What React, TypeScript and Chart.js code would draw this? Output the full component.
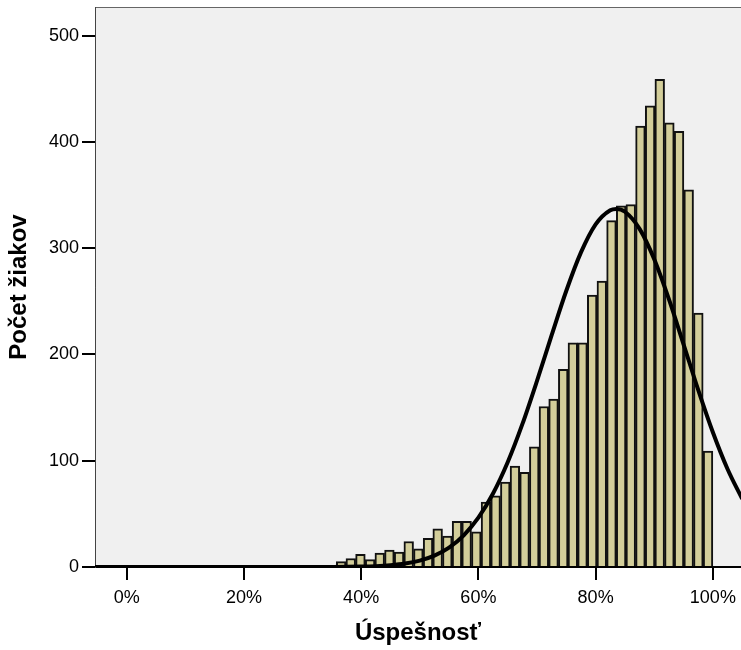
import React, { useEffect, useRef } from "react";
import { Chart, registerables } from "chart.js";

Chart.register(...registerables);

// Histogram bins (left to right), each 1.647 percentage points wide, last bin ends at 100 %
const binWidth = 1.647;
const firstBinCenter = 30.0;
const binCounts = [
  1, 0, 1, 0, 5, 8, 12, 7, 13, 16, 14, 24, 17, 27, 36, 29, 43, 43, 33, 61, 67,
  80, 95, 89, 113, 151, 158, 186, 211, 211, 256, 269, 326, 340, 341, 415, 434,
  459, 418, 410, 355, 239, 109,
];

// Normal curve
const curveX = [
  -5.4, 0, 10, 20, 25, 30, 32.5, 35, 37.5, 40, 42.5, 45, 47.5, 50, 52.5, 55,
  57.5, 60, 62.5, 65, 67.5, 70, 72.5, 75, 77.5, 80, 82.5, 83.5, 85, 87.5, 90,
  92.5, 95, 97.5, 100, 102.5, 105,
];
const curveY = [
  0, 0, 0, 0, 0, 0, 0.03, 0.07, 0.17, 0.38, 0.8, 1.65, 3.2, 6, 10.7, 18.2, 29.8,
  46.4, 69.2, 98.6, 134.4, 175.2, 218.2, 260, 296.1, 322.5, 335.8, 337, 334.3,
  318.2, 289.6, 252, 209.6, 166.7, 126.8, 92.2, 64.1,
];

const xTickValues = [0, 20, 40, 60, 80, 100];
const yTickValues = [0, 100, 200, 300, 400, 500];
const xTitle = "Úspešnosť";
const yTitle = "Počet žiakov";

const FONT = "'Liberation Sans', Arial, sans-serif";

const plotBg = {
  id: "plotBg",
  beforeDraw(chart: any) {
    const { ctx, chartArea } = chart;
    const { left, top, right, bottom } = chartArea;
    ctx.save();
    ctx.fillStyle = "#f0f0f0";
    ctx.fillRect(left, top, right - left, bottom - top);
    ctx.strokeStyle = "#666";
    ctx.lineWidth = 1;
    ctx.strokeRect(left + 0.5, top + 0.5, right - left, bottom - top);
    ctx.restore();
  },
};

export default function App() {
  const ref = useRef<HTMLCanvasElement | null>(null);

  useEffect(() => {
    document.body.style.margin = "0";
    const barData = binCounts.map((c, i) => ({
      x: firstBinCenter + i * binWidth,
      y: c,
    }));
    const lineData = curveX.map((x, i) => ({ x, y: curveY[i] }));

    const chart = new Chart(ref.current as HTMLCanvasElement, {
      type: "bar",
      data: {
        datasets: [
          {
            type: "line",
            data: lineData,
            borderColor: "#000",
            borderWidth: 4,
            pointRadius: 0,
            fill: false,
            cubicInterpolationMode: "monotone",
            order: 0,
          } as any,
          {
            type: "bar",
            data: barData,
            backgroundColor: "#d3ce9a",
            borderColor: "#111",
            borderWidth: 2,
            barPercentage: 1,
            categoryPercentage: 1,
            order: 1,
          } as any,
        ],
      },
      options: {
        animation: false,
        responsive: true,
        maintainAspectRatio: false,
        layout: { padding: { top: 7, right: 0, left: 0, bottom: 0 } },
        plugins: { legend: { display: false }, tooltip: { enabled: false } },
        scales: {
          x: {
            type: "linear",
            min: -5.4,
            max: 104.8,
            offset: false,
            afterFit: (s: any) => {
              s.height = 83;
              s.paddingLeft = 0;
              s.paddingRight = 0;
            },
            afterBuildTicks: (s: any) => {
              s.ticks = xTickValues.map((v) => ({ value: v }));
            },
            ticks: {
              color: "#000",
              font: { family: FONT, size: 18 },
              padding: 7,
              maxRotation: 0,
              callback: (v: any) => `${v}%`,
            },
            grid: {
              offset: false,
              drawOnChartArea: false,
              drawTicks: true,
              tickLength: 13,
              color: "#000",
              lineWidth: 2,
            },
            border: { display: true, color: "#000", width: 2 },
            title: {
              display: true,
              text: xTitle,
              color: "#000",
              font: { family: FONT, size: 24, weight: "bold" },
              padding: { top: 0, bottom: 2 },
            },
          },
          y: {
            type: "linear",
            min: 0,
            max: 527,
            afterFit: (s: any) => {
              s.width = 95;
              s.paddingTop = 0;
              s.paddingBottom = 0;
            },
            afterBuildTicks: (s: any) => {
              s.ticks = yTickValues.map((v) => ({ value: v }));
            },
            ticks: {
              color: "#000",
              font: { family: FONT, size: 18 },
              padding: 3,
            },
            grid: {
              drawOnChartArea: false,
              drawTicks: true,
              tickLength: 13,
              color: "#000",
              lineWidth: 2,
            },
            border: { display: true, color: "#444", width: 1 },
            title: {
              display: true,
              text: yTitle,
              color: "#000",
              font: { family: FONT, size: 24, weight: "bold" },
              padding: { top: 5, bottom: 0 },
            },
          },
        },
      },
      plugins: [plotBg],
    });
    return () => chart.destroy();
  }, []);

  return (
    <div style={{ position: "absolute", left: 0, top: 0, width: 741, height: 650 }}>
      <canvas ref={ref} />
    </div>
  );
}
